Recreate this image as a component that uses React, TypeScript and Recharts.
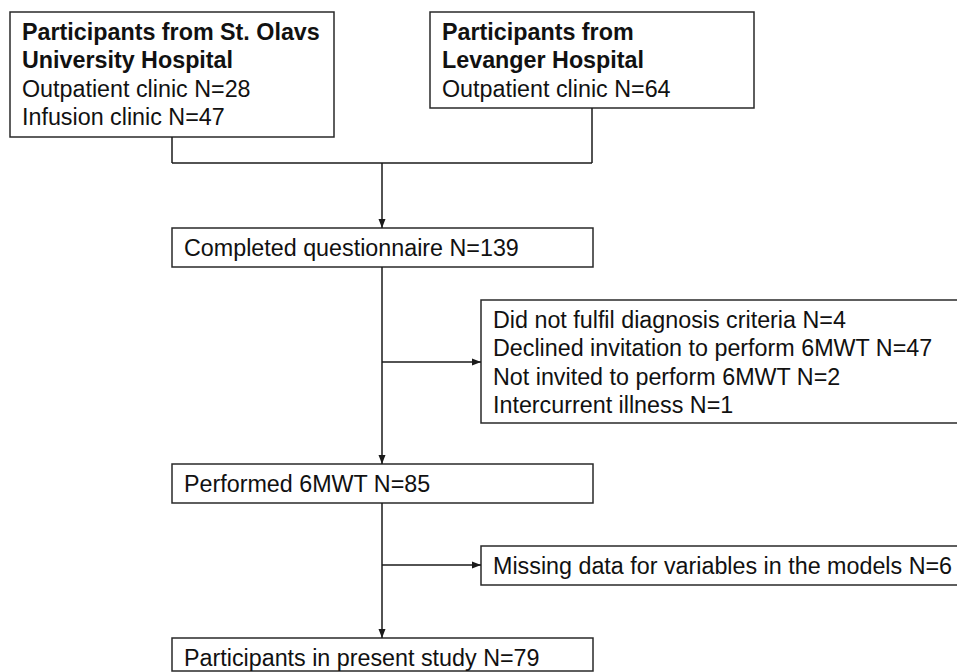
import { ComposedChart, XAxis, YAxis, Scatter, ReferenceArea, ReferenceLine } from 'recharts';

const WIDTH = 957;
const HEIGHT = 672;

// box corners in chart units (x to the right, y downwards)
const boxes = [
  { x1: 10, x2: 334, y1: 12, y2: 137 },
  { x1: 430, x2: 754, y1: 12, y2: 108 },
  { x1: 172, x2: 593, y1: 228, y2: 267 },
  { x1: 481, x2: 958, y1: 300, y2: 423 },
  { x1: 172, x2: 593, y1: 464, y2: 503 },
  { x1: 481, x2: 958, y1: 546, y2: 585 },
  { x1: 172, x2: 593, y1: 638, y2: 671 },
];

const boxTitles = [
  ['Participants from St. Olavs', 'University Hospital'],
  ['Participants from', 'Levanger Hospital'],
  [], [], [], [], [],
];

const boxLines = [
  ['Outpatient clinic N=28', 'Infusion clinic N=47'],
  ['Outpatient clinic N=64'],
  ['Completed questionnaire N=139'],
  [
    'Did not fulfil diagnosis criteria N=4',
    'Declined invitation to perform 6MWT N=47',
    'Not invited to perform 6MWT N=2',
    'Intercurrent illness N=1',
  ],
  ['Performed 6MWT N=85'],
  ['Missing data for variables in the models N=6'],
  ['Participants in present study N=79'],
];

const connectors = [
  [[172, 137], [172, 163]],
  [[172, 163], [592, 163]],
  [[592, 163], [592, 108]],
  [[382, 163], [382, 228]],
  [[382, 267], [382, 464]],
  [[382, 362], [481, 362]],
  [[382, 503], [382, 638]],
  [[382, 565], [481, 565]],
];

const arrowTips = [
  { x: 382, y: 228, dir: 'down' },
  { x: 481, y: 362, dir: 'right' },
  { x: 382, y: 464, dir: 'down' },
  { x: 481, y: 565, dir: 'right' },
  { x: 382, y: 638, dir: 'down' },
];

const FONT = '"Liberation Sans", Arial, Helvetica, sans-serif';
const LINE_GAP = 28.6;

const textRows = boxes.flatMap((b, i) => {
  const rows = [
    ...boxTitles[i].map((t) => ({ text: t, bold: true })),
    ...boxLines[i].map((t) => ({ text: t, bold: false })),
  ];
  return rows.map((r, j) => ({ x: b.x1 + 12, y: b.y1 + 27.5 + j * LINE_GAP, text: r.text, bold: r.bold }));
});

const TextShape = (p: any) => (
  <text
    x={p.cx}
    y={p.cy}
    fill="#111"
    fontFamily={FONT}
    fontSize={23.3}
    fontWeight={p.payload.bold ? 700 : 400}
    textAnchor="start"
  >
    {p.payload.text}
  </text>
);

const ArrowShape = (p: any) => {
  const { cx, cy } = p;
  const pts =
    p.payload.dir === 'down'
      ? `${cx},${cy} ${cx - 3.5},${cy - 9} ${cx + 3.5},${cy - 9}`
      : `${cx},${cy} ${cx - 9},${cy - 3.5} ${cx - 9},${cy + 3.5}`;
  return <polygon points={pts} fill="#1a1a1a" />;
};

export default function App() {
  return (
    <div style={{ position: 'absolute', left: 0, top: 0, background: '#fff' }}>
      <ComposedChart width={WIDTH} height={HEIGHT} margin={{ top: 0, right: 0, bottom: 0, left: 0 }}>
        <XAxis type="number" dataKey="x" domain={[0, WIDTH]} hide allowDataOverflow />
        <YAxis type="number" dataKey="y" domain={[0, HEIGHT]} reversed hide allowDataOverflow />
        {boxes.map((b, i) => (
          <ReferenceArea
            key={'b' + i}
            x1={b.x1}
            x2={b.x2}
            y1={b.y1}
            y2={b.y2}
            fill="#fff"
            fillOpacity={1}
            stroke="#2a2a2a"
            strokeWidth={1.5}
            ifOverflow="visible"
          />
        ))}
        {connectors.map((c, i) => (
          <ReferenceLine
            key={'c' + i}
            segment={[{ x: c[0][0], y: c[0][1] }, { x: c[1][0], y: c[1][1] }]}
            stroke="#1a1a1a"
            strokeWidth={1.5}
            ifOverflow="visible"
          />
        ))}
        <Scatter data={arrowTips} shape={ArrowShape} isAnimationActive={false} />
        <Scatter data={textRows} shape={TextShape} isAnimationActive={false} />
      </ComposedChart>
    </div>
  );
}
